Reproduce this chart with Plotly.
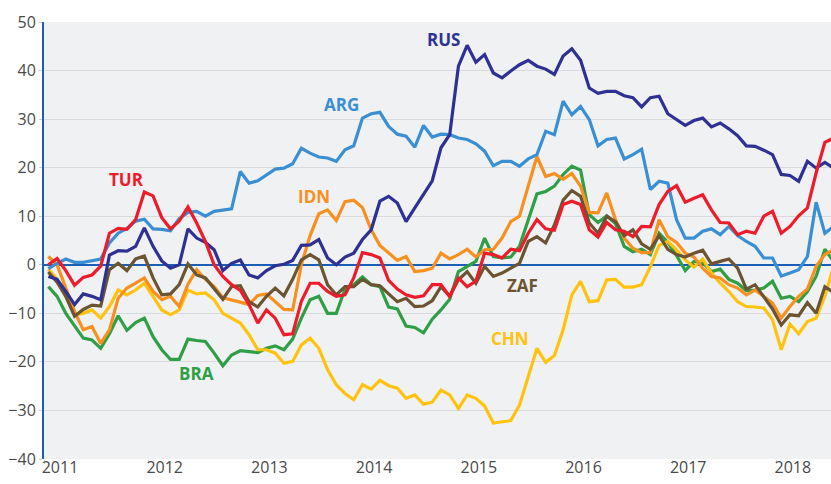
import plotly.graph_objects as go

# Monthly observations, Jan 2011 .. Jul 2018 (plotted mid-month)
start_year = 2011
n_months = 91

RUS = [-2.4, -3.0, -5.5, -8.2, -6.0, -6.5, -7.2, 2.0, 2.9, 2.8, 3.8, 7.6, 3.8, 0.8, -0.7,
       0.0, 7.4, 5.5, 4.6, 3.1, -1.2, 0.3, 1.0, -2.1, -2.7, -1.2, -0.2, 0.1, 0.9, 4.0,
       4.1, 5.2, 1.4, 0.0, 1.6, 2.4, 5.2, 7.2, 13.1, 14.1, 12.7, 8.9, 11.7, 14.4, 17.3,
       24.1, 26.8, 40.9, 45.2, 41.7, 43.3, 39.5, 38.5, 39.9, 41.2, 42.1, 40.9, 40.3, 39.2, 43.0,
       44.5, 42.1, 36.4, 35.3, 35.7, 35.7, 34.8, 34.4, 32.5, 34.4, 34.7, 31.1, 29.8, 28.7, 29.7,
       30.2, 28.4, 29.2, 28.0, 26.6, 24.5, 24.4, 23.6, 22.7, 18.6, 18.4, 17.2, 21.3, 19.9, 21.1, 19.9]

ARG = [-0.8, 0.3, 1.2, 0.5, 0.5, 0.9, 1.2, 4.5, 6.5, 7.5, 9.0, 9.4, 7.4, 7.3, 7.0,
       9.5, 10.8, 11.0, 10.0, 11.0, 11.2, 11.5, 19.2, 16.8, 17.3, 18.5, 19.7, 19.9, 20.8, 24.0,
       23.0, 22.2, 22.0, 21.3, 23.7, 24.5, 30.2, 31.1, 31.4, 28.5, 26.9, 26.5, 24.2, 28.7, 26.3,
       26.9, 26.8, 26.1, 25.8, 24.9, 23.4, 20.4, 21.3, 21.3, 20.3, 21.8, 22.7, 27.5, 26.8, 33.7,
       30.9, 32.6, 29.9, 24.5, 25.8, 26.1, 21.8, 22.7, 23.8, 15.5, 17.2, 16.8, 9.3, 5.5, 5.5,
       6.9, 7.4, 6.2, 7.9, 6.0, 4.8, 3.8, 1.4, 1.4, -2.3, -1.7, -1.0, 1.7, 12.9, 6.5, 7.9]

TUR = [0.0, 1.3, -1.2, -4.2, -2.6, -2.1, -0.3, 6.5, 7.5, 7.3, 9.3, 15.0, 14.2, 9.7, 7.4,
       9.0, 11.9, 8.6, 4.8, 0.0, -2.4, -4.1, -5.3, -8.2, -12.0, -9.3, -11.0, -14.4, -14.2, -7.5,
       -3.8, -3.8, -5.5, -6.5, -6.2, -2.7, 2.5, 2.1, 1.4, -3.2, -5.0, -6.2, -6.7, -6.4, -4.1,
       -4.1, -6.5, -2.7, -4.5, -3.4, 2.4, 2.1, 1.4, 3.2, 2.9, 6.5, 9.3, 7.4, 7.1, 12.4,
       13.1, 12.4, 7.2, 5.7, 8.7, 7.2, 6.9, 5.8, 7.9, 7.8, 12.4, 15.1, 16.3, 12.9, 13.7,
       14.4, 11.3, 8.7, 8.6, 6.2, 6.9, 6.5, 10.0, 11.0, 6.5, 7.9, 10.1, 11.7, 18.9, 25.2, 26.1]

IDN = [1.7, 0.0, -4.8, -9.6, -13.4, -12.7, -16.2, -13.4, -6.9, -4.8, -3.8, -2.7, -5.5, -7.2, -6.5,
       -8.6, -4.0, -1.0, -3.0, -4.5, -6.8, -7.2, -7.7, -8.2, -6.3, -6.0, -7.6, -9.2, -9.3, 0.0,
       6.0, 10.5, 11.3, 9.1, 13.0, 13.3, 11.8, 7.2, 4.0, 2.4, 0.9, 1.7, -1.4, -1.2, -0.7,
       2.4, 1.2, 2.1, 3.2, 1.6, 3.1, 3.2, 5.5, 8.9, 10.0, 16.2, 22.3, 18.2, 18.8, 17.6,
       18.8, 16.2, 10.8, 10.7, 14.8, 9.3, 5.5, 3.4, 2.5, 2.5, 9.3, 5.8, 4.6, 2.4, 1.6,
       -0.7, -2.4, -2.7, -4.1, -4.8, -6.2, -5.2, -6.5, -7.9, -11.0, -8.6, -6.5, -5.0, -0.3, 2.1, 3.1]

ZAF = [-1.5, -3.6, -6.5, -10.6, -9.2, -8.3, -8.5, -1.0, 0.3, -1.2, 1.2, 1.8, -2.7, -6.2, -6.0,
       -4.1, 0.2, -2.1, -2.7, -5.0, -7.1, -4.5, -4.3, -7.6, -8.7, -6.5, -4.8, -6.4, -3.0, 1.0,
       2.1, 1.0, -4.1, -6.2, -4.5, -4.5, -3.0, -4.1, -4.3, -6.0, -7.6, -6.9, -8.6, -8.5, -7.4,
       -4.5, -6.5, -3.1, -1.4, -3.8, -0.3, -2.4, -1.7, -0.7, 0.3, 4.8, 5.8, 4.5, 8.2, 13.3,
       15.3, 14.1, 8.6, 6.5, 10.0, 8.9, 6.0, 7.2, 4.3, 3.2, 6.0, 3.2, 2.1, 1.6, 2.4,
       3.0, 0.2, 0.7, 1.2, -0.7, -5.0, -4.1, -6.5, -9.1, -12.4, -10.3, -10.5, -7.8, -10.0, -4.5, -5.7]

CHN = [-0.9, -3.0, -6.5, -10.3, -10.0, -9.3, -11.0, -8.6, -5.2, -6.2, -5.2, -3.8, -6.5, -9.3, -10.3,
       -9.3, -5.2, -6.0, -5.8, -7.2, -10.0, -11.0, -12.0, -14.4, -17.5, -17.5, -18.2, -20.3, -19.9, -16.5,
       -15.1, -17.2, -21.6, -24.7, -26.5, -27.8, -24.7, -25.6, -23.8, -24.9, -25.4, -27.5, -26.8, -28.7, -28.3,
       -25.8, -26.8, -29.6, -26.8, -27.5, -29.1, -32.6, -32.3, -32.1, -28.9, -23.0, -17.2, -20.1, -18.7, -13.4,
       -6.2, -3.4, -7.6, -7.4, -3.1, -3.0, -4.6, -4.6, -4.1, -0.4, 4.0, 4.8, 3.1, 1.0, -0.5,
       1.2, -1.7, -3.8, -5.5, -7.6, -8.6, -8.7, -8.9, -11.3, -17.5, -12.2, -14.2, -11.7, -11.0, -6.5, -0.3]

BRA = [-4.5, -6.5, -10.0, -12.6, -15.1, -15.5, -17.2, -14.2, -10.5, -13.5, -11.9, -11.0, -14.8, -17.5, -19.5,
       -19.5, -15.3, -15.6, -15.8, -18.2, -20.8, -18.6, -17.7, -17.9, -18.1, -17.2, -16.7, -17.5, -15.3, -11.0,
       -7.2, -6.5, -10.0, -10.0, -5.0, -4.1, -2.5, -4.1, -4.5, -8.7, -9.1, -12.6, -12.9, -14.0, -11.2,
       -9.3, -7.1, -1.4, -0.3, 0.7, 5.5, 1.7, 1.4, 1.6, 3.8, 9.3, 14.6, 15.1, 16.2, 18.6,
       20.3, 19.5, 10.3, 8.7, 10.1, 8.5, 3.8, 2.7, 3.2, 2.1, 6.5, 4.6, 1.9, -1.2, 0.7,
       0.5, -1.4, -0.9, -3.0, -3.8, -5.3, -5.2, -4.8, -3.4, -6.9, -6.5, -7.6, -5.5, -2.4, 3.2, 0.7]

year_ticks = [2011, 2012, 2013, 2014, 2015, 2016, 2017, 2018]
year_labels = [str(y) for y in year_ticks]

x = [start_year + (i + 0.5) / 12 for i in range(n_months)]

series = [
    ("BRA", BRA, "#2f9e44"),
    ("CHN", CHN, "#ffc20e"),
    ("IDN", IDN, "#f7901e"),
    ("ZAF", ZAF, "#6b5431"),
    ("ARG", ARG, "#3a8fd2"),
    ("RUS", RUS, "#2e3192"),
    ("TUR", TUR, "#ec1c2a"),
]

labels = [
    ("RUS", 2014.811, 46.4, "#2e3192"),
    ("ARG", 2013.837, 33.1, "#3a8fd2"),
    ("TUR", 2011.785, 17.5, "#ec1c2a"),
    ("IDN", 2013.577, 14.0, "#f7901e"),
    ("ZAF", 2015.570, -4.2, "#6b5431"),
    ("CHN", 2015.451, -15.1, "#ffc20e"),
    ("BRA", 2012.452, -22.3, "#2f9e44"),
]

fig = go.Figure()
for name, vals, col in series:
    fig.add_trace(go.Scatter(x=x, y=vals, mode="lines", name=name,
                             line=dict(color=col, width=3.2), hoverinfo="skip"))

for txt, lx, ly, col in labels:
    fig.add_annotation(x=lx, y=ly, text="<b>" + txt + "</b>", showarrow=False,
                       xanchor="center", yanchor="middle",
                       font=dict(family="Open Sans", size=17, color=col))

fig.update_layout(
    width=831, height=484,
    margin=dict(l=44, r=0, t=22, b=25, autoexpand=False),
    paper_bgcolor="white",
    plot_bgcolor="#f0f1f3",
    showlegend=False,
    font=dict(family="Open Sans", size=16, color="#4a4a4a"),
)
fig.update_xaxes(
    range=[2011, 2018.517], automargin=False,
    tickmode="array", tickvals=year_ticks, ticktext=year_labels,
    ticks="outside", ticklen=4, tickcolor="#cfd0d2", tickwidth=1,
    ticklabelshift=16, ticklabelstandoff=-10,
    showgrid=False, showline=False, zeroline=False,
    tickfont=dict(family="Open Sans", size=16, color="#4a4a4a"),
)
fig.update_yaxes(
    range=[-40, 50], dtick=10, tick0=0, automargin=False,
    showgrid=True, gridcolor="#d9dadd", gridwidth=1,
    showline=True, linecolor="#1b5fb5", linewidth=2,
    ticks="outside", ticklen=3, tickcolor="#cfd0d2",
    zeroline=True, zerolinecolor="#1b5fb5", zerolinewidth=1.5,
    tickfont=dict(family="Open Sans", size=16, color="#4a4a4a"),
)

fig.write_html("out.html",
               config={"displayModeBar": False},
               post_script="document.body.style.margin='0';document.body.style.padding='0';")
